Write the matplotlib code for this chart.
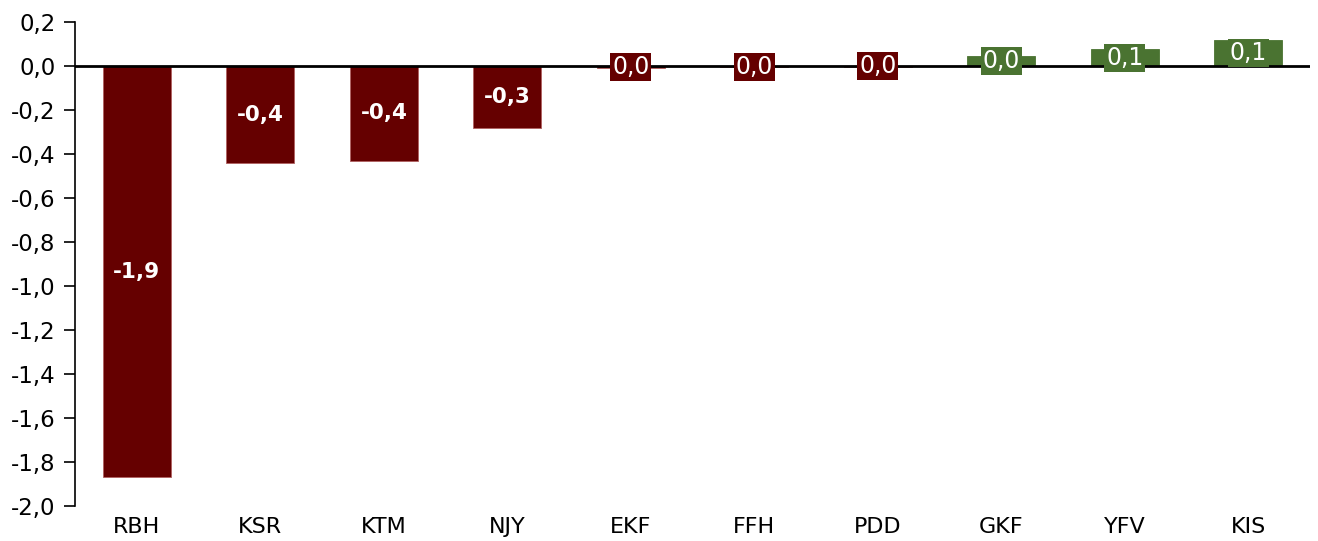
import matplotlib
matplotlib.use("Agg")
import matplotlib.pyplot as plt
from matplotlib.ticker import FuncFormatter, MultipleLocator

categories = ["RBH", "KSR", "KTM", "NJY", "EKF", "FFH", "PDD", "GKF", "YFV", "KIS"]
values = [-1.87, -0.44, -0.43, -0.28, -0.01, -0.005, -0.002, 0.045, 0.077, 0.12]
labels = ["-1,9", "-0,4", "-0,4", "-0,3", "0,0", "0,0", "0,0", "0,0", "0,1", "0,1"]

RED = "#650000"
GREEN = "#4a7331"

plt.rcParams['font.family'] = ['DejaVu Sans']
fig = plt.figure(figsize=(13.18, 5.41), dpi=100)
ax = fig.add_axes([0.057, 0.0647, 0.937, 0.8943])

x = range(len(categories))
colors = [RED if v < 0 else GREEN for v in values]
bars = ax.bar(x, values, width=0.55, color=colors,
              edgecolor=[("#b06060" if v < 0 else GREEN) for v in values],
              linewidth=0.6, zorder=2)

ax.set_xlim(-0.5, len(categories) - 0.5)
ax.set_ylim(-2.0, 0.2)
ax.yaxis.set_major_locator(MultipleLocator(0.2))
ax.yaxis.set_major_formatter(FuncFormatter(lambda v, p: f"{v:.1f}".replace(".", ",").replace("-0,0", "0,0")))
ax.axhline(0, color="black", linewidth=2, zorder=3)

for s in ["top", "right", "bottom"]:
    ax.spines[s].set_visible(False)
ax.spines["left"].set_linewidth(1.2)
ax.tick_params(axis="y", direction="out", length=8, width=1.2, labelsize=16.5, pad=6)
ax.tick_params(axis="x", length=0, labelsize=16, pad=8)
ax.set_xticks(list(x))
ax.set_xticklabels(categories)

for i, (v, lab, c) in enumerate(zip(values, labels, colors)):
    big = abs(v) > 0.2
    ax.text(i, v / 2, lab, ha="center", va="center", color="white",
            fontsize=15.5 if big else 17, fontweight="bold" if big else "normal",
            bbox=dict(boxstyle="square,pad=0.08", facecolor=c, edgecolor="none"),
            zorder=4)

fig.savefig("out.png", dpi=100)
